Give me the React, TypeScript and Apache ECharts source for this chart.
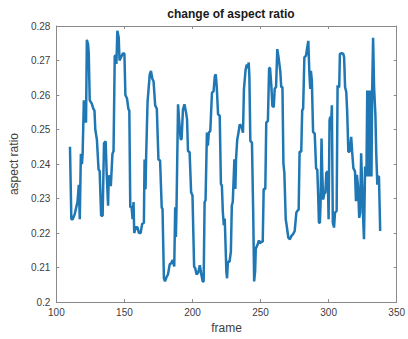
import React, { useEffect, useRef } from "react";
import * as echarts from "echarts";

const frames: number[] = [
  110, 111, 112, 113.5, 115.5, 116.5, 117.2, 118, 118.8, 119.3, 120.2, 120.8, 121.3, 121.8, 122.4, 123.3, 123.8, 124.5,
  126, 127.2, 128, 128.6, 129.8, 131, 131.8, 132.9, 134, 134.5, 135, 136.2, 137, 138, 138.5, 139.5, 140, 141.2, 142,
  142.9, 143.6, 144.1, 144.8, 145.8, 146.4, 147.6, 148.8, 150, 150.7, 151.9, 152.9, 153.6, 154.3, 155.2, 156, 156.7,
  157.2, 158.3, 159.5, 160.7, 161.9, 163, 164.3, 164.8, 165.5, 166, 167, 168.6, 169.5, 170.5, 171.4, 172.6, 173.8, 175,
  176.2, 177.4, 178, 179, 179.8, 181, 182, 183.3, 184.3, 185.4, 186.6, 187.3, 187.8, 188.3, 189.4, 190.1, 191.3, 192,
  193, 194.1, 195.3, 196, 196.7, 197.9, 199, 200, 201.2, 202, 203, 204.2, 205.4, 206.5, 207.5, 208.2, 208.9, 209.6,
  210.6, 211.3, 212, 213.1, 213.6, 214.3, 215.5, 216.4, 217.1, 217.8, 218.8, 220, 220.9, 221.6, 222.3, 223, 223.7,
  224.9, 225.4, 226, 227.2, 228.2, 228.9, 229.6, 230.8, 231.5, 232, 232.9, 233.6, 234.7, 235.9, 237.1, 237.8, 239,
  239.9, 240.6, 241.3, 241.8, 242.5, 243.7, 244.6, 245.3, 246, 246.5, 247.7, 248.8, 249.5, 250.7, 251.6, 252.3, 253.5,
  254.2, 255.4, 256.3, 257, 258, 258.7, 259.7, 260.4, 261.4, 262.3, 263.2, 264.5, 265.2, 266.1, 266.8, 267.5, 268.5,
  269.2, 270.4, 271.6, 272.7, 273.9, 275.1, 276.3, 277, 278, 278.7, 279.9, 280.6, 281.3, 282.2, 283.4, 284.1, 285.1,
  285.8, 286.5, 287, 287.7, 288.6, 289.8, 290.8, 291.7, 292.4, 292.9, 293.6, 294.1, 294.8, 295.3, 296, 296.9, 297.6,
  298.3, 299.3, 300, 300.7, 301.2, 301.7, 302.4, 303.1, 304, 304.7, 305.9, 306.6, 307.1, 307.8, 308.3, 309.5, 310.7,
  311.4, 312.1, 313, 313.7, 314.5, 315.4, 316.6, 317.3, 318.2, 319.4, 320.1, 320.8, 321.6, 322.5, 323.2, 323.9, 324.9,
  325.4, 326, 326.8, 327.2, 327.8, 328.4, 328.9, 329.6, 330.3, 330.8, 331.5, 332, 332.7, 333.4, 334.4, 335, 335.8,
  336.3, 337, 337.9,
];

const ratios: number[] = [
  0.245, 0.224, 0.224, 0.2255, 0.229, 0.234, 0.224, 0.243, 0.24, 0.243, 0.2585, 0.252, 0.2585, 0.252, 0.276, 0.2747, 0.272, 0.2585,
  0.2575, 0.256, 0.2555, 0.25, 0.247, 0.2384, 0.238, 0.225, 0.225, 0.225, 0.246, 0.2466, 0.237, 0.2279, 0.2365, 0.2365, 0.2336, 0.243, 0.2437,
  0.2714, 0.2714, 0.269, 0.2786, 0.2767, 0.27, 0.271, 0.272, 0.272, 0.26, 0.259, 0.256, 0.2555, 0.2274, 0.2278, 0.224, 0.229,
  0.22, 0.2217, 0.2217, 0.22, 0.22, 0.2226, 0.223, 0.2413, 0.2327, 0.243, 0.258, 0.266, 0.267, 0.2647, 0.264, 0.257, 0.256, 0.2413,
  0.241, 0.2274, 0.227, 0.2069, 0.206, 0.2073, 0.208, 0.211, 0.2112, 0.2122, 0.2103, 0.2275, 0.2189, 0.228, 0.2573, 0.253, 0.2472, 0.2472,
  0.2558, 0.2573, 0.2549, 0.253, 0.2438, 0.2434, 0.2318, 0.2309, 0.2103, 0.2098, 0.208, 0.2085, 0.2107, 0.208, 0.206, 0.206, 0.229, 0.2295,
  0.2491, 0.2453, 0.2491, 0.2496, 0.2496, 0.2606, 0.2611, 0.2654, 0.266, 0.2625, 0.2544, 0.254, 0.2342, 0.2338, 0.2261, 0.2223, 0.2242,
  0.2088, 0.2069, 0.2117, 0.2117, 0.2146, 0.228, 0.229, 0.2414, 0.2328, 0.2414, 0.2472, 0.2486, 0.2515, 0.251, 0.2491, 0.2616, 0.2673,
  0.2688, 0.2678, 0.2694, 0.2654, 0.2467, 0.2462, 0.2261, 0.206, 0.2088, 0.2155, 0.2165, 0.2179, 0.217, 0.2175, 0.2175, 0.2328, 0.2328,
  0.252, 0.2525, 0.2678, 0.2678, 0.2623, 0.2568, 0.2565, 0.2618, 0.2623, 0.2733, 0.271, 0.267, 0.2623, 0.2623, 0.2403, 0.2374, 0.224,
  0.2222, 0.2187, 0.2182, 0.2192, 0.2197, 0.2206, 0.2259, 0.2264, 0.2268, 0.2436, 0.2436, 0.2556, 0.256, 0.2709, 0.2714, 0.2733, 0.2757,
  0.2671, 0.2618, 0.267, 0.2642, 0.2493, 0.2489, 0.2388, 0.2383, 0.2302, 0.223, 0.223, 0.2288, 0.2474, 0.238, 0.2297, 0.2316, 0.2316,
  0.2374, 0.2379, 0.224, 0.2527, 0.2537, 0.2499, 0.257, 0.223, 0.2216, 0.2259, 0.2264, 0.2628, 0.2623, 0.2623, 0.2719, 0.2721, 0.272,
  0.271, 0.2623, 0.2608, 0.2546, 0.2436, 0.2436, 0.2479, 0.2436, 0.2388, 0.2379, 0.2292, 0.2369, 0.2335, 0.2244, 0.2259, 0.2431, 0.2307,
  0.224, 0.2182, 0.2393, 0.2393, 0.2364, 0.2613, 0.2364, 0.2613, 0.2364, 0.2613, 0.2364, 0.2613, 0.2766, 0.2623, 0.2541, 0.2431, 0.234,
  0.2364, 0.2364, 0.2206,
];

const xTicks = { min: 100, max: 350, interval: 50 };
const yTicks = { min: 0.2, max: 0.28, interval: 0.01 };

const titleText = "change of aspect ratio";
const xName = "frame";
const yName = "aspect ratio";

export default function App() {
  const ref = useRef<HTMLDivElement>(null);
  useEffect(() => {
    if (!ref.current) return;
    const chart = echarts.init(ref.current, undefined, { renderer: "svg" });
    const font = "'Liberation Sans', Arial, Helvetica, sans-serif";
    const axisColor = "#8a8a8a";
    const labelColor = "#404040";
    const data = frames.map((f, i) => [f, ratios[i]]);
    const hiddenAxisCommon = {
      axisLine: { show: true, lineStyle: { color: axisColor, width: 1 } },
      axisTick: { show: true, inside: true, length: 3, lineStyle: { color: axisColor } },
      axisLabel: { show: false },
      splitLine: { show: false },
    };
    chart.setOption({
      animation: false,
      backgroundColor: "#ffffff",
      title: {
        text: titleText,
        left: 226,
        textAlign: "center",
        top: 3,
        textStyle: { fontFamily: font, fontSize: 12, fontWeight: "bold", color: "#1a1a1a" },
      },
      grid: { left: 50, right: 6, top: 26, bottom: 35, containLabel: false },
      xAxis: [
        {
          type: "value",
          position: "bottom",
          min: xTicks.min,
          max: xTicks.max,
          interval: xTicks.interval,
          name: xName,
          nameLocation: "middle",
          nameGap: 17,
          nameTextStyle: { fontFamily: font, fontSize: 12, color: labelColor },
          axisLine: { show: true, onZero: false, lineStyle: { color: axisColor, width: 1 } },
          axisTick: { show: true, inside: true, length: 3, lineStyle: { color: axisColor } },
          axisLabel: { fontFamily: font, fontSize: 10, color: labelColor, margin: 5 },
          splitLine: { show: false },
        },
        {
          type: "value",
          position: "top",
          min: xTicks.min,
          max: xTicks.max,
          interval: xTicks.interval,
          ...hiddenAxisCommon,
        },
      ],
      yAxis: [
        {
          type: "value",
          position: "left",
          min: yTicks.min,
          max: yTicks.max,
          interval: yTicks.interval,
          name: yName,
          nameLocation: "middle",
          nameGap: 31,
          nameTextStyle: { fontFamily: font, fontSize: 12, color: labelColor },
          axisLine: { show: true, onZero: false, lineStyle: { color: axisColor, width: 1 } },
          axisTick: { show: true, inside: true, length: 3, lineStyle: { color: axisColor } },
          axisLabel: {
            fontFamily: font,
            fontSize: 10,
            color: labelColor,
            margin: 6,
            formatter: (v: number) => String(parseFloat(v.toFixed(2))),
          },
          splitLine: { show: false },
        },
        {
          type: "value",
          position: "right",
          min: yTicks.min,
          max: yTicks.max,
          interval: yTicks.interval,
          ...hiddenAxisCommon,
        },
      ],
      series: [
        {
          type: "line",
          data,
          showSymbol: false,
          symbol: "none",
          lineStyle: { color: "#1f77b4", width: 2.5 },
          xAxisIndex: 0,
          yAxisIndex: 0,
          clip: true,
        },
      ],
    });
    return () => chart.dispose();
  }, []);
  return (
    <div
      ref={ref}
      style={{ position: "absolute", left: 0, top: 0, width: 408, height: 339, overflow: "hidden", background: "#fff" }}
    />
  );
}
